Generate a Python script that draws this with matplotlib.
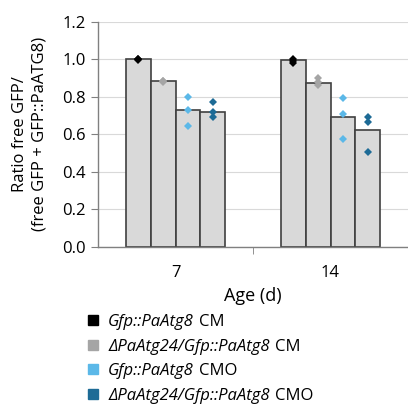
import numpy as np
import matplotlib.pyplot as plt
from matplotlib.patches import Rectangle

plt.rcParams['font.family'] = ['Open Sans', 'DejaVu Sans']

ages = ['7', '14']
# legend labels: (italic part, plain part)
labels = [('Gfp::PaAtg8', 'CM'),
          ('ΔPaAtg24/Gfp::PaAtg8', 'CM'),
          ('Gfp::PaAtg8', 'CMO'),
          ('ΔPaAtg24/Gfp::PaAtg8', 'CMO')]
colors = ['#000000', '#a5a5a5', '#5bb8e8', '#1d6b96']

# bar means per strain, [age 7, age 14]
gfp_cm = [1.00, 0.995]
d24_cm = [0.884, 0.871]
gfp_cmo = [0.729, 0.695]
d24_cmo = [0.721, 0.623]

# single replicates
gfp_cm_pts = [[1.00, 1.00, 0.995], [0.99, 0.98, 1.00]]
d24_cm_pts = [[0.88, 0.885, 0.882], [0.90, 0.862, 0.88]]
gfp_cmo_pts = [[0.799, 0.732, 0.645], [0.792, 0.707, 0.575]]
d24_cmo_pts = [[0.771, 0.72, 0.69], [0.69, 0.668, 0.504]]

means = [gfp_cm, d24_cm, gfp_cmo, d24_cmo]
points = [gfp_cm_pts, d24_cm_pts, gfp_cmo_pts, d24_cmo_pts]

W, H = 408, 405
fig = plt.figure(figsize=(W / 100, H / 100), dpi=100)
ax = fig.add_axes([98 / W, 1 - 247 / H, 1 - 98 / W, (247 - 21.7) / H])

x = np.arange(len(ages))
w = 0.16
for i in range(4):
    pos = x + (i - 1.5) * w
    ax.bar(pos, means[i], width=w, color='#d9d9d9', edgecolor='#404040',
           linewidth=1.2, zorder=2)
    for j in range(len(ages)):
        ax.plot([pos[j]] * len(points[i][j]), points[i][j], 'D',
                color=colors[i], markersize=4, markeredgewidth=0, zorder=3)

ax.set_xlim(-0.5, 1.5)
ax.set_ylim(0, 1.2)
ax.set_yticks(np.arange(0, 1.21, 0.2))
ax.set_yticklabels(['%.1f' % v for v in np.arange(0, 1.21, 0.2)])
ax.yaxis.grid(True, color='#d9d9d9', linewidth=0.8, zorder=0)
ax.set_axisbelow(True)
ax.set_xticks(x)
ax.set_xticklabels(ages)
ax.set_xticks([0.5, 1.5], minor=True)
ax.tick_params(axis='x', which='major', length=0, pad=13, labelsize=12)
ax.tick_params(axis='x', which='minor', length=5, color='#808080')
ax.tick_params(axis='y', length=5, color='#808080', labelsize=12, pad=4)
for s in ['top', 'right']:
    ax.spines[s].set_visible(False)
for s in ['left', 'bottom']:
    ax.spines[s].set_color('#808080')
    ax.spines[s].set_linewidth(1.0)

ax.set_ylabel('Ratio free GFP/\n(free GFP + GFP::PaATG8)', fontsize=12,
              linespacing=1.3, labelpad=10)
ax.set_xlabel('Age (d)', fontsize=13, labelpad=4)

# legend drawn by hand so that only the gene names are italic
fig.canvas.draw()
r = fig.canvas.get_renderer()
for i, (it, plain) in enumerate(labels):
    yc = 320 + 24.6 * i
    fig.add_artist(Rectangle((88 / W, 1 - (yc + 5) / H), 10 / W, 10 / H,
                             transform=fig.transFigure, color=colors[i]))
    t = fig.text(108 / W, 1 - yc / H, it, style='italic', fontsize=12,
                 va='center_baseline')
    x1 = t.get_window_extent(r).x1
    fig.text((x1 + 5) / W, 1 - yc / H, plain, fontsize=12,
             va='center_baseline')

fig.savefig('out.png', dpi=100)
